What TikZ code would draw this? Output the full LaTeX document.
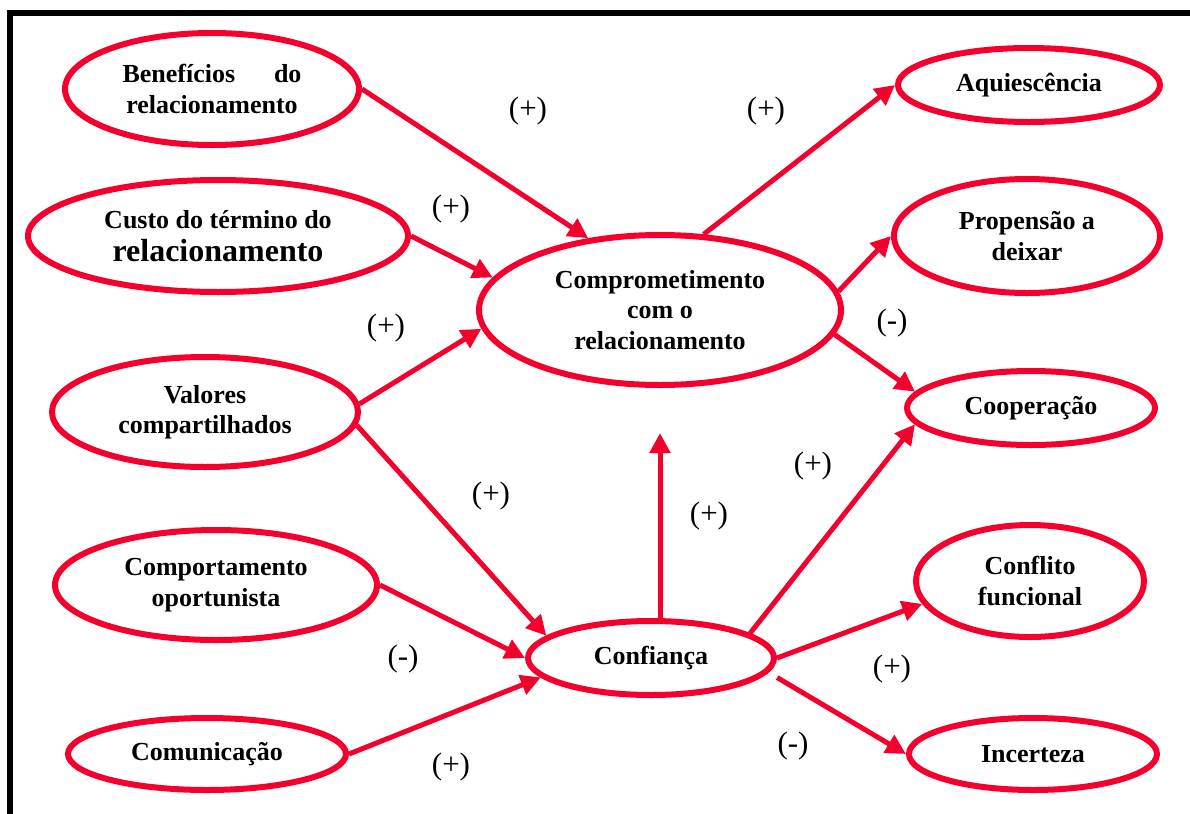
\documentclass[tikz,border=0pt]{standalone}
\usepackage{fontspec}
\setmainfont{Liberation Serif}
\usetikzlibrary{shapes.geometric,arrows.meta}
\definecolor{linkred}{RGB}{245,0,45}

\begin{document}
\begin{tikzpicture}[x=0.5pt,y=-0.5pt,
  elli/.style={ellipse,draw=linkred,line width=3pt,inner sep=0pt,align=center,font=\bfseries\fontsize{13}{15.2}\selectfont},
  link/.style={draw=linkred,line width=2.5pt,-{Triangle[length=10pt,width=10pt]}},
  sgn/.style={font=\fontsize{15.5}{18}\selectfont}]

\useasboundingbox (0,0) rectangle (1190,814);
\draw[line width=3pt] (10,814) -- (10,13) -- (1190,13); %frame, cut at right and bottom

% antecedents
\node[elli,minimum width=147pt,minimum height=56pt] (benef) at (212,89) {\hbox to 89.5pt{Benefícios\hfill do}\\relacionamento};
\node[elli,minimum width=190pt,minimum height=56pt] (custo) at (218,236) {Custo do término do\\[1pt]{\fontsize{16}{16}\selectfont relacionamento}};
\node[elli,minimum width=153pt,minimum height=55pt] (valores) at (205,412) {Valores\\compartilhados};
\node[elli,minimum width=161pt,minimum height=55pt] (comport) at (216,585) {Comportamento\\oportunista};
\node[elli,minimum width=139pt,minimum height=36pt] (comun) at (207,754) {Comunicação};

% mediators
\node[elli,minimum width=181pt,minimum height=75pt] (comp) at (660,310) {Comprometimento\\com o\\relacionamento};
\node[elli,minimum width=123pt,minimum height=37pt] (conf) at (651,658) {Confiança};

% outcomes
\node[elli,minimum width=131pt,minimum height=37pt] (aquies) at (1029,85) {Aquiescência};
\node[elli,minimum width=133pt,minimum height=57pt] (prop) at (1027,236) {Propensão a\\deixar};
\node[elli,minimum width=124pt,minimum height=37pt] (coop) at (1031,408) {Cooperação};
\node[elli,minimum width=114pt,minimum height=56pt] (confl) at (1030,581) {Conflito\\funcional};
\node[elli,minimum width=124pt,minimum height=36pt] (incert) at (1033,754) {Incerteza};

% connectors
\draw[link] (benef.east) -- (comp.135);
\draw[link] (custo.east) -- (comp.169);
\draw[link] (valores.3) -- (comp.186);
\draw[link] (valores.-5) -- (conf.168);
\draw[link] (comport.east) -- (conf.west);
\draw[link] (comun.east) -- (conf.190);
\coordinate (gapend) at (660,433); %arrow stops short of the ellipse
\draw[link] (conf.north -| gapend) -- (gapend);
\draw[link] (comp.60) -- (aquies.west);
\draw[link] (comp.6) -- (prop.west);
\draw[link] (comp.-8) -- (coop.172);
\draw[link] (conf.14) -- (coop.188);
\draw[link] (conf.east) -- (confl.192);
\draw[link,shorten <=5pt] (conf.-7) -- (incert.west); %starts off the border

% signs
\node[sgn] (s1) at (528,111) {(+)};
\node[sgn] (s2) at (766,111) {(+)};
\node[sgn] (s3) at (451,209) {(+)};
\node[sgn] (s4) at (386,328) {(+)};
\node[sgn] (s5) at (892,323) {(-)};
\node[sgn] (s6) at (813,466) {(+)};
\node[sgn] (s7) at (491,496) {(+)};
\node[sgn] (s8) at (709,516) {(+)};
\node[sgn] (s9) at (403,659) {(-)};
\node[sgn] (s10) at (892,669) {(+)};
\node[sgn] (s11) at (451,767) {(+)};
\node[sgn] (s12) at (793,746) {(-)};
\end{tikzpicture}
\end{document}
